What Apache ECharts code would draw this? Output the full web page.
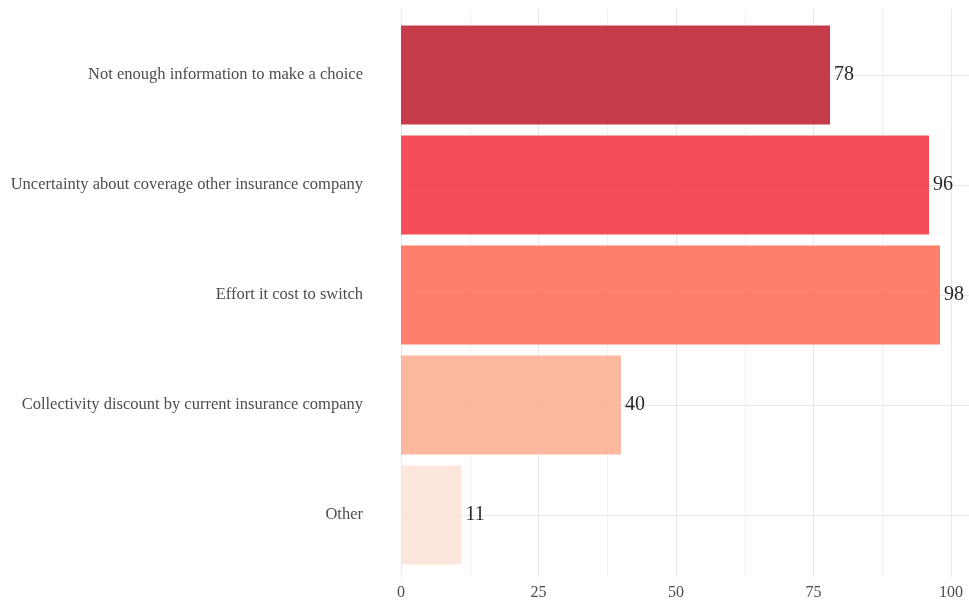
<!DOCTYPE html>
<html>
<head>
<meta charset="utf-8">
<script src="https://cdn.jsdelivr.net/npm/echarts@6/dist/echarts.min.js"></script>
<style>
  html, body { margin: 0; padding: 0; background: #fff; }
  #chart { width: 969px; height: 603px; }
</style>
</head>
<body>
<div id="chart"></div>
<script>
// reasons for not switching, top to bottom
const reasons = [
    "Not enough information to make a choice",
    "Uncertainty about coverage other insurance company",
    "Effort it cost to switch",
    "Collectivity discount by current insurance company",
    "Other"
];
const counts = [78, 96, 98, 40, 11];
const barColors = ["#bc1a2c", "#f32f3b", "#fe6a52", "#fdad8f", "#fde2d6"];
const xTicks = [0, 25, 50, 75, 100];

const chart = echarts.init(document.getElementById("chart"));
const serif = "'Liberation Serif', 'DejaVu Serif', serif";
const gridGrey = "#e9e9e9";

const option = {
    animation: false,
    backgroundColor: "#ffffff",
    grid: { left: 401, right: 18, top: 20, bottom: 33 },
    xAxis: {
        type: "value",
        min: xTicks[0],
        max: xTicks[xTicks.length - 1],
        interval: 25,
        offset: 7,
        axisLine: { show: false },
        // ticks drawn inward stand in for the full-height panel grid
        axisTick: { show: true, inside: true, length: 568, lineStyle: { color: gridGrey, width: 1.2 } },
        minorTick: { show: true, splitNumber: 2, length: 568, lineStyle: { color: "#f1f1f1", width: 1 } },
        splitLine: { show: false },
        axisLabel: { margin: 8, color: "#4d4d4d", fontFamily: serif, fontSize: 16 }
    },
    yAxis: {
        type: "category",
        inverse: true,
        data: reasons,
        offset: 28,
        axisLine: { show: false },
        axisTick: { show: true, inside: true, alignWithLabel: true, interval: 0, length: 594, lineStyle: { color: gridGrey, width: 1.2 } },
        splitLine: { show: false },
        axisLabel: { interval: 0, margin: 10, color: "#4d4d4d", fontFamily: serif, fontSize: 16.5 }
    },
    series: [{
        type: "bar",
        data: counts.map((v, i) => ({ value: v, itemStyle: { color: barColors[i] } })),
        barWidth: "90%",
        itemStyle: { opacity: 0.85 },
        label: {
            show: true,
            position: "right",
            distance: 4,
            color: "#000",
            fontFamily: serif,
            fontSize: 20
        }
    }]
};

chart.setOption(option);
window.addEventListener("resize", () => chart.resize());
</script>
</body>
</html>
